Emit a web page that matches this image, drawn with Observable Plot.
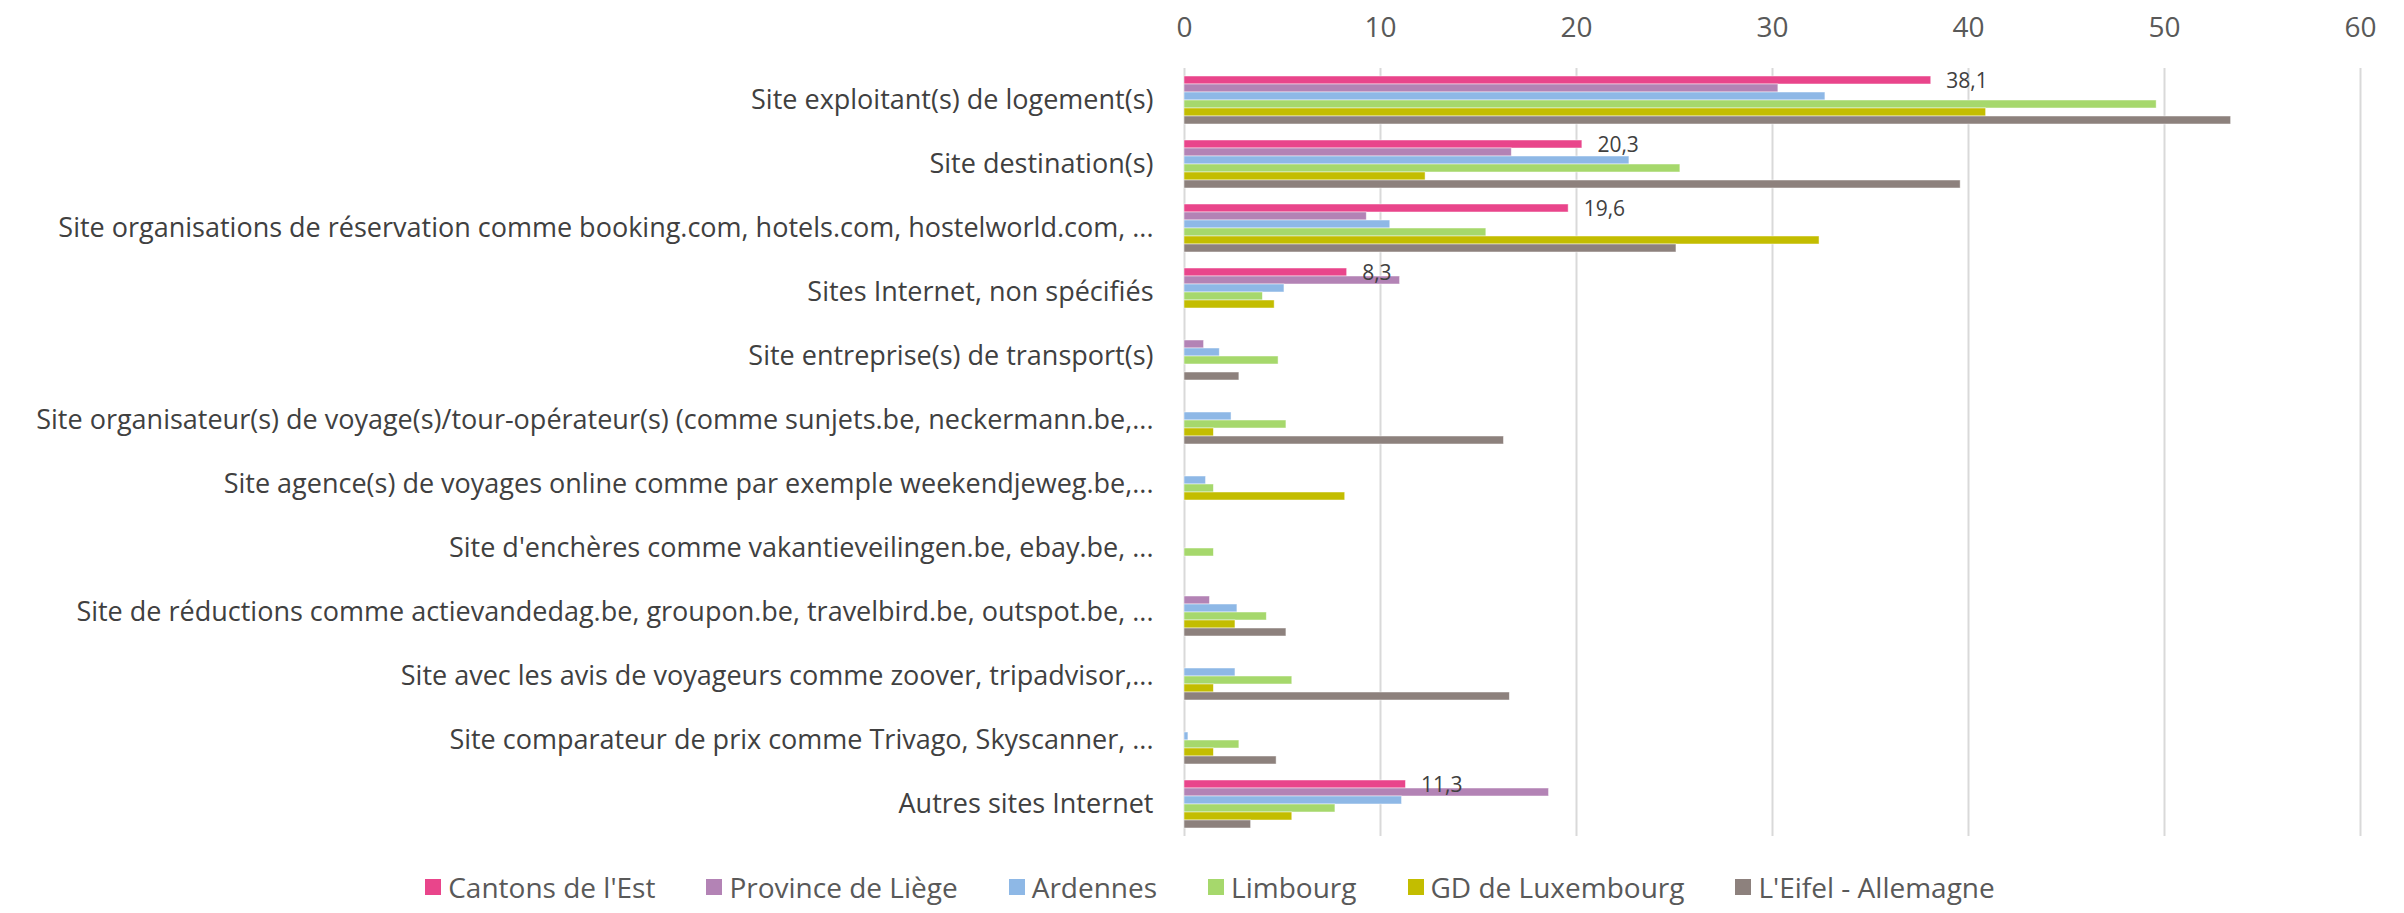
<!DOCTYPE html>
<html>
<head>
<meta charset="utf-8">
<script src="https://cdn.jsdelivr.net/npm/d3@7"></script>
<script src="https://cdn.jsdelivr.net/npm/@observablehq/plot@0.6"></script>
<style>
  html, body { margin: 0; padding: 0; background: #fff; }
  body { width: 2404px; height: 913px; overflow: hidden; font-family: "Open Sans", sans-serif; }
  #legend { display: flex; justify-content: center; align-items: center; height: 53px; font-size: 28px; color: #595959; gap: 51px; padding-left: 16px; }
  #legend .item { display: flex; align-items: center; }
  #legend .sw { width: 16px; height: 16px; margin-right: 7px; }
</style>
</head>
<body>
<div id="chart"></div>
<div id="legend"></div>
<script>
const categories = [
  "Site exploitant(s) de logement(s)",
  "Site destination(s)",
  "Site organisations de réservation comme booking.com, hotels.com, hostelworld.com, ...",
  "Sites Internet, non spécifiés",
  "Site entreprise(s) de transport(s)",
  "Site organisateur(s) de voyage(s)/tour-opérateur(s) (comme sunjets.be, neckermann.be,...",
  "Site agence(s) de voyages online comme par exemple weekendjeweg.be,...",
  "Site d'enchères comme vakantieveilingen.be, ebay.be, ...",
  "Site de réductions comme actievandedag.be, groupon.be, travelbird.be, outspot.be, ...",
  "Site avec les avis de voyageurs comme zoover, tripadvisor,...",
  "Site comparateur de prix comme Trivago, Skyscanner, ...",
  "Autres sites Internet"
];
const seriesNames = ["Cantons de l'Est", "Province de Liège", "Ardennes", "Limbourg", "GD de Luxembourg", "L'Eifel - Allemagne"];
const seriesColors = ["#E9458B", "#B383B5", "#8EB8E6", "#A6D86C", "#C3BD00", "#8D817D"];
const cantons    = [38.1, 20.3, 19.6, 8.3, null, null, null, null, null, null, null, 11.3];
const liege      = [30.3, 16.7, 9.3, 11.0, 1.0, null, null, null, 1.3, null, null, 18.6];
const ardennes   = [32.7, 22.7, 10.5, 5.1, 1.8, 2.4, 1.1, null, 2.7, 2.6, 0.2, 11.1];
const limbourg   = [49.6, 25.3, 15.4, 4.0, 4.8, 5.2, 1.5, 1.5, 4.2, 5.5, 2.8, 7.7];
const luxembourg = [40.9, 12.3, 32.4, 4.6, null, 1.5, 8.2, null, 2.6, 1.5, 1.5, 5.5];
const eifel      = [53.4, 39.6, 25.1, null, 2.8, 16.3, null, null, 5.2, 16.6, 4.7, 3.4];
const xTicks = [0, 10, 20, 30, 40, 50, 60];

const seriesValues = [cantons, liege, ardennes, limbourg, luxembourg, eifel];
const data = [];
categories.forEach((c, i) => {
  seriesNames.forEach((s, j) => {
    const v = seriesValues[j][i];
    if (v != null) data.push({category: c, series: s, value: v});
  });
});
const labelData = data.filter(d => d.series === seriesNames[0]);

const chart = Plot.plot({
  width: 2404,
  height: 860,
  marginLeft: 1184,
  marginRight: 44,
  marginTop: 66,
  marginBottom: 22,
  style: {fontFamily: "'Open Sans', sans-serif", fontSize: "27px", color: "#404040", overflow: "visible"},
  x: {domain: [0, 60], axis: null},
  y: {domain: seriesNames, axis: null, paddingInner: 0, paddingOuter: 0.92},
  fy: {domain: categories, padding: 0, axis: "left", tickSize: 0, tickPadding: 31, label: null},
  color: {domain: seriesNames, range: seriesColors},
  marks: [
    Plot.gridX(xTicks, {stroke: "#d9d9d9", strokeOpacity: 1, strokeWidth: 2}),
    Plot.axisX(xTicks, {anchor: "top", tickSize: 0, tickPadding: 32, color: "#595959", fontSize: 28, label: null, tickFormat: d => d}),
    Plot.barX(data, {fy: "category", y: "series", x: "value", fill: "series", stroke: "white", strokeWidth: 0.8, strokeOpacity: 0.6}),
    Plot.text(labelData, {fy: "category", y: "series", x: "value", text: d => d.value.toFixed(1).replace(".", ","), textAnchor: "start", dx: 15, dy: 1, fontSize: 21, fill: "#404040"})
  ]
});
document.getElementById("chart").appendChild(chart);

const legend = document.getElementById("legend");
seriesNames.forEach((s, i) => {
  const item = document.createElement("div");
  item.className = "item";
  const sw = document.createElement("span");
  sw.className = "sw";
  sw.style.background = seriesColors[i];
  const t = document.createElement("span");
  t.textContent = s;
  item.appendChild(sw);
  item.appendChild(t);
  legend.appendChild(item);
});
</script>
</body>
</html>
